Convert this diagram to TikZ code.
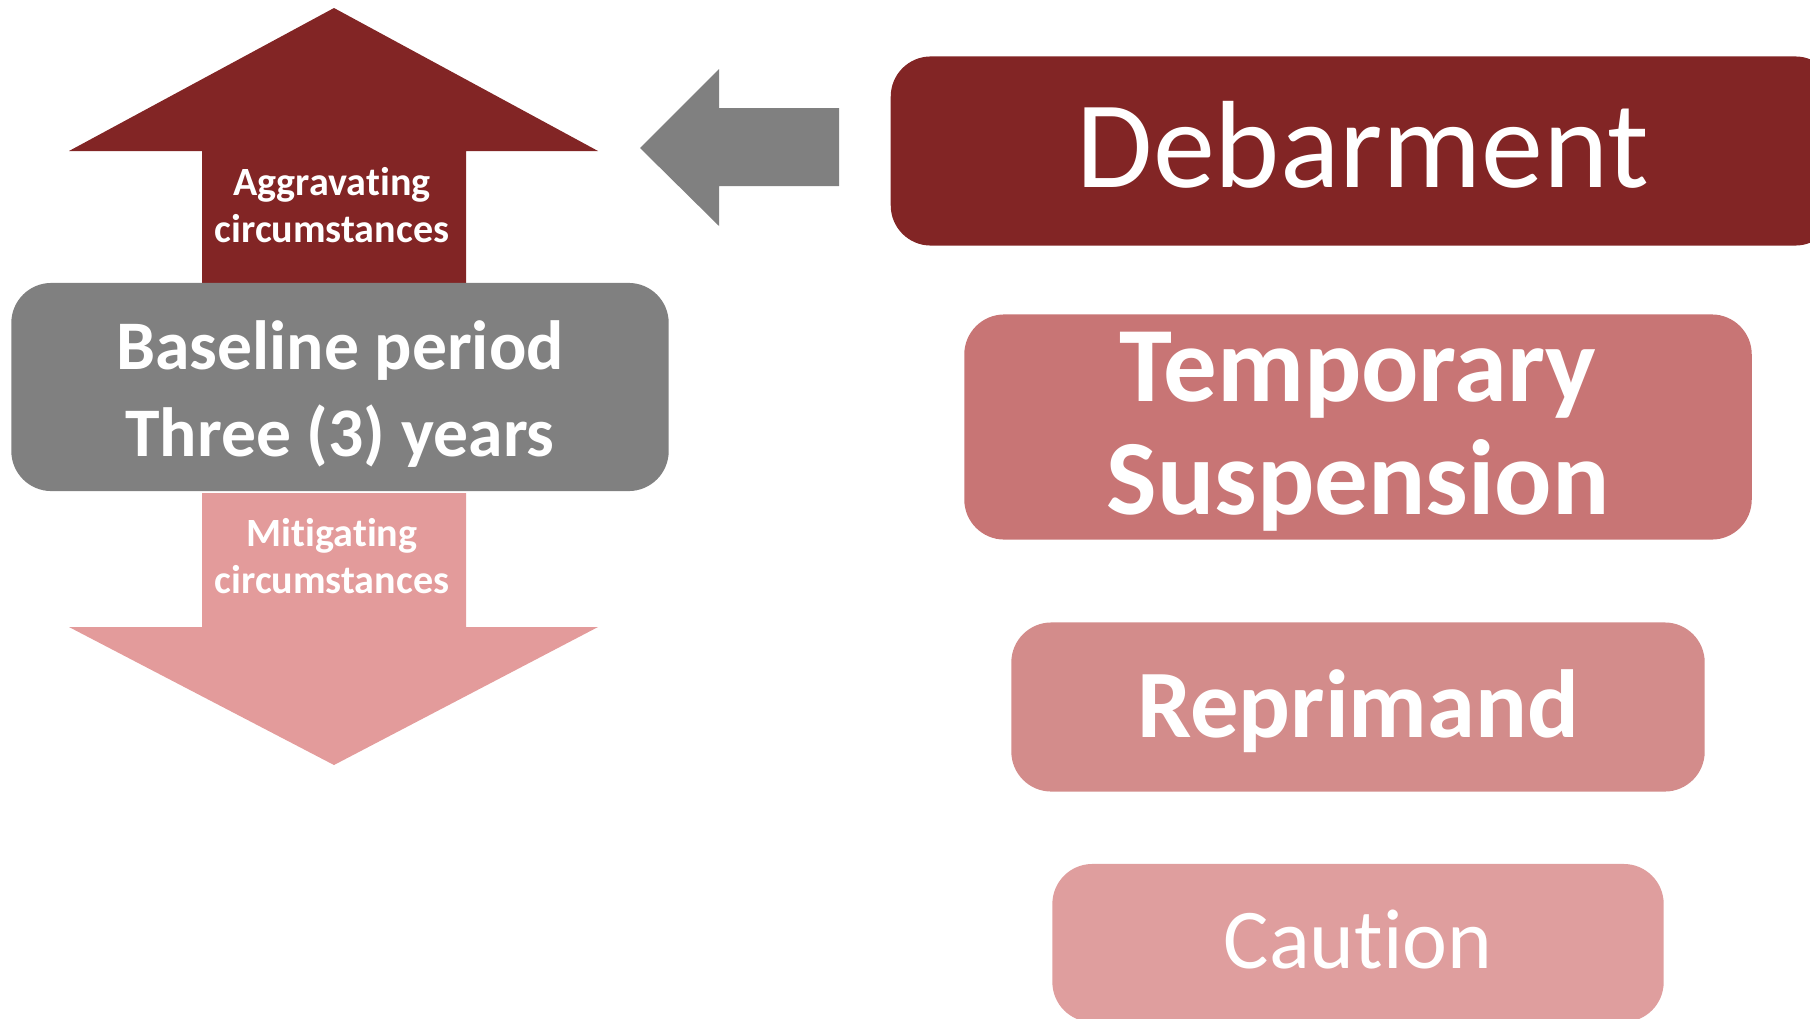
\documentclass[tikz,border=0pt]{standalone}
\usepackage{fontspec}
\setmainfont{Carlito}[Ligatures=NoCommon,RawFeature={-liga;-clig}]
\usetikzlibrary{positioning}
\definecolor{debarred}{HTML}{822525}
\definecolor{basegray}{HTML}{808080}
\definecolor{mitigpink}{HTML}{E39B9B}
\definecolor{suspred}{HTML}{C87575}
\definecolor{repripink}{HTML}{D38C8B}
\definecolor{cautpink}{HTML}{DF9E9E}

\begin{document}
\begin{tikzpicture}[x=0.01cm,y=-0.01cm,
  box/.style={rounded corners=0.4cm,text=white,align=center,inner sep=0pt},
  small/.style={text=white,align=center,inner sep=0pt,font=\bfseries\fontsize{11.4}{13.4}\selectfont}]
\useasboundingbox (0,0) rectangle (1810,1018);
% block arrows
\fill[debarred] (202,283) -- (202,151) -- (69,151) -- (334,8) -- (598,151) -- (466,151) -- (466,283) -- cycle;
\fill[mitigpink] (202,493) -- (466,493) -- (466,627) -- (598,627) -- (334,765) -- (69,627) -- (202,627) -- cycle;
\fill[basegray] (839,108) -- (719,108) -- (719,69) -- (640,148) -- (719,226) -- (719,186) -- (839,186) -- cycle;
\node[small] (aggr) at (332,205) {Aggravating\\circumstances};
\node[small] (mitig) at (332,556) {Mitigating\\circumstances};
% baseline
\node[box,fill=basegray,minimum width=6.57cm,minimum height=2.08cm] (base) at (340,387) {};
\node[text=white,align=center,inner sep=0pt,font=\bfseries\fontsize{19.8}{24.6}\selectfont] (basetxt) at (340,394) {Baseline period\\Three (3) years};
% sanctions
\node[box,fill=debarred,minimum width=9.44cm,minimum height=1.89cm] (debar) at (1363,151) {};
\node[text=white,inner sep=0pt,font=\fontsize{35.3}{42}\selectfont] (debartxt) at (1363,145) {Debarment};
\node[box,fill=suspred,minimum width=7.87cm,minimum height=2.25cm] (susp) at (1358,427) {};
\node[text=white,align=center,inner sep=0pt,font=\bfseries\fontsize{30.4}{32.2}\selectfont] (susptxt) at (1358,432) {Temporary\\Suspension};
\node[box,fill=repripink,minimum width=6.93cm,minimum height=1.69cm] (repri) at (1358,707) {};
\node[text=white,inner sep=0pt,font=\bfseries\fontsize{27.5}{33}\selectfont] (repritxt) at (1358,711) {Reprimand};
\node[box,fill=cautpink,minimum width=6.11cm,minimum height=1.58cm] (caut) at (1358,943) {};
\node[text=white,inner sep=0pt,font=\fontsize{24.2}{29}\selectfont] (cauttxt) at (1358,940) {Caution};
\end{tikzpicture}
\end{document}
